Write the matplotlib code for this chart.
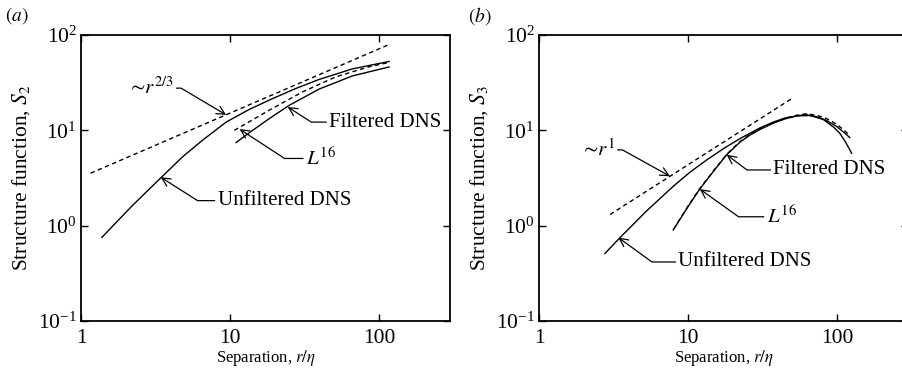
import matplotlib
matplotlib.use('Agg')
import matplotlib.pyplot as plt
from matplotlib.ticker import NullLocator, FixedLocator, FixedFormatter

plt.rcParams['font.family'] = 'serif'
plt.rcParams['font.serif'] = ['Liberation Serif', 'DejaVu Serif']
plt.rcParams['mathtext.fontset'] = 'stix'

# ---- panel (a): second-order structure function S2 ----
r_unf_a = [1.38, 2.2, 3.38, 4.83, 6.58, 9.43, 13.5, 19.3, 27.7, 39.7, 66.3, 117]
s2_unf = [0.753, 1.61, 3.10, 5.31, 7.93, 12.2, 16.6, 21.5, 27.5, 34.2, 44.1, 52.8]

r_filt_a = [11.0, 14.0, 18.4, 25.0, 39.7, 66.3, 117]
s2_filt = [7.45, 9.84, 13.3, 18.3, 27.1, 37.2, 46.2]

r_les_a = [10.7, 18.4, 30.7, 51.3, 85.7, 117]
s2_les = [10.0, 16.3, 25.3, 36.4, 46.4, 51.6]

r_k41_a = [1.16, 115]
s2_k41 = [3.55, 78.5]

# ---- panel (b): third-order structure function S3 ----
r_unf_b = [2.77, 3.5, 5.28, 7.97, 10.3, 13.4, 17.3, 22.3, 30.4, 37.4, 45.0,
           55.0, 66.0, 81.0, 95.0, 104.7, 115.0, 125.5]
s3_unf = [0.51, 0.75, 1.43, 2.59, 3.63, 4.91, 6.42, 8.17, 10.6, 12.2, 13.5,
          14.2, 14.3, 13.0, 10.8, 9.3, 7.4, 5.75]

r_filt_b = [7.96, 10.0, 12.0, 15.0, 18.2, 22.3, 26.0, 30.4, 37.4, 45.0,
            53.7, 62.0, 73.1, 85.0, 99.5, 112.0, 122.0]
s3_filt = [0.90, 1.58, 2.42, 3.8, 5.55, 7.5, 8.9, 10.2, 11.9, 13.2,
           14.2, 14.6, 13.9, 12.7, 11.0, 9.46, 8.4]

r_les_b = [8.0, 10.0, 12.0, 15.0, 18.2, 22.3, 26.0, 30.4, 37.4, 45.0,
           53.7, 62.0, 73.1, 85.0, 99.5, 112.0, 122.0]
s3_les = [0.92, 1.6, 2.45, 3.85, 5.6, 7.6, 9.0, 10.3, 12.0, 13.4,
          14.4, 14.9, 14.4, 13.3, 11.6, 10.0, 8.8]

r_k41_b = [3.0, 50.4]
s3_k41 = [1.31, 21.8]

dash = (0, (3.2, 2.4))

fig = plt.figure(figsize=(9.02, 3.70), dpi=100)
ax_a = fig.add_axes([81 / 902, 49 / 370, 369 / 902, 286 / 370])
ax_b = fig.add_axes([539 / 902, 49 / 370, 369 / 902, 286 / 370])

ax_a.plot(r_unf_a, s2_unf, color='k', lw=1.0)
ax_a.plot(r_filt_a, s2_filt, color='k', lw=1.0)
ax_a.plot(r_les_a, s2_les, color='k', lw=1.0, linestyle=dash)
ax_a.plot(r_k41_a, s2_k41, color='k', lw=1.0, linestyle=dash)

ax_b.plot(r_unf_b, s3_unf, color='k', lw=1.0)
ax_b.plot(r_filt_b, s3_filt, color='k', lw=1.0)
ax_b.plot(r_les_b, s3_les, color='k', lw=1.0, linestyle=dash)
ax_b.plot(r_k41_b, s3_k41, color='k', lw=1.0, linestyle=dash)


def label(ax, text, xytext, xy, ang):
    ax.annotate(text, xy=xy, xytext=xytext, fontsize=15, ha='left', va='center',
                arrowprops=dict(arrowstyle='->', color='k', lw=0.9,
                                shrinkA=0, shrinkB=0,
                                connectionstyle=f'angle,angleA=0,angleB={ang},rad=0'))


label(ax_a, r'$\sim\!r^{2/3}$', (2.03, 27.7), (9.44, 14.5), -30.7)
label(ax_a, 'Unfiltered DNS', (8.25, 1.83), (3.43, 3.22), -32.4)
label(ax_a, 'Filtered DNS', (46.3, 12.2), (24.4, 17.6), -32.7)
label(ax_a, r'$L^{16}$', (32.3, 5.07), (11.6, 10.3), -33.1)

label(ax_b, r'$\sim\!r^{1}$', (1.88, 6.23), (7.57, 3.3), -29)
label(ax_b, 'Filtered DNS', (37.4, 3.84), (18.2, 5.55), -37)
label(ax_b, r'$L^{16}$', (33.7, 1.24), (12.0, 2.42), -35.5)
label(ax_b, 'Unfiltered DNS', (8.61, 0.416), (3.41, 0.75), -36)

for ax, ylab in [(ax_a, r'Structure function, $S_2$'), (ax_b, r'Structure function, $S_3$')]:
    ax.set_xscale('log')
    ax.set_yscale('log')
    ax.set_xlim(1, 300)
    ax.set_ylim(0.1, 100)
    ax.xaxis.set_major_locator(FixedLocator([1, 10, 100]))
    ax.xaxis.set_major_formatter(FixedFormatter(['1', '10', '100']))
    ax.yaxis.set_major_locator(FixedLocator([0.1, 1, 10, 100]))
    ax.xaxis.set_minor_locator(NullLocator())
    ax.yaxis.set_minor_locator(NullLocator())
    ax.tick_params(which='both', direction='in', top=True, right=True,
                   length=5, width=1.0, labelsize=15.5)
    ax.tick_params(axis='x', pad=6)
    ax.tick_params(axis='y', pad=3)
    for sp in ax.spines.values():
        sp.set_linewidth(1.3)
    ax.set_xlabel(r'Separation, $r/\eta$', fontsize=12, labelpad=0)
    ax.set_ylabel(ylab, fontsize=15.5, labelpad=4)

fig.text(5 / 902, 1 - 5 / 370, r'$(a)$', fontsize=14, va='top', ha='left')
fig.text(468 / 902, 1 - 5 / 370, r'$(b)$', fontsize=14, va='top', ha='left')

fig.savefig('out.png', dpi=100)
